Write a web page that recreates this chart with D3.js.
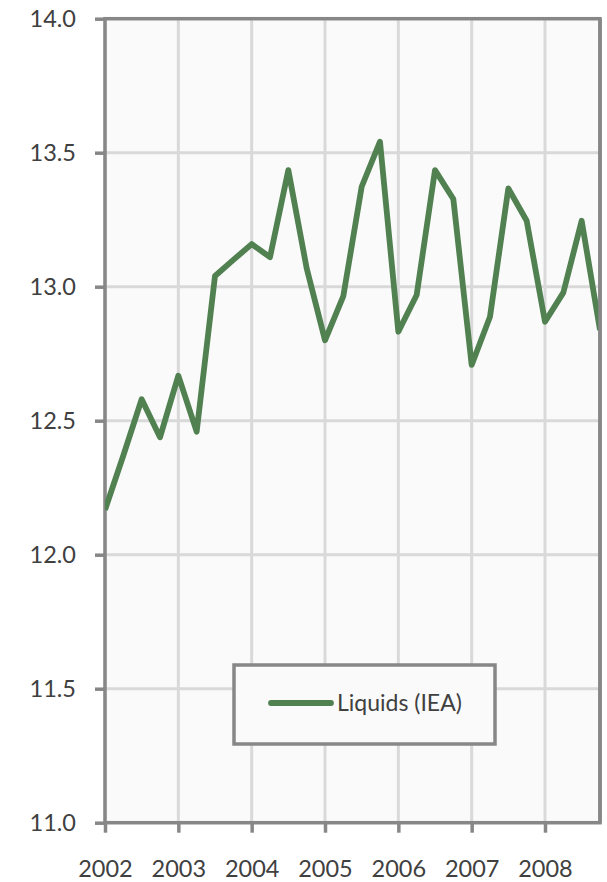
<!DOCTYPE html>
<html>
<head>
<meta charset="utf-8">
<script src="https://cdn.jsdelivr.net/npm/d3@7"></script>
<style>
  html, body { margin: 0; padding: 0; background: #ffffff; }
  svg { display: block; }
  text { font-family: Lato, "Open Sans", sans-serif; fill: #404040; }
</style>
</head>
<body>
<svg id="chart" width="607" height="882"></svg>
<script>
// Quarterly liquids production (IEA), 2002 Q1 – 2008 Q4
const periods = [
  2002.0, 2002.25, 2002.5, 2002.75,
  2003.0, 2003.25, 2003.5, 2003.75,
  2004.0, 2004.25, 2004.5, 2004.75,
  2005.0, 2005.25, 2005.5, 2005.75,
  2006.0, 2006.25, 2006.5, 2006.75,
  2007.0, 2007.25, 2007.5, 2007.75,
  2008.0, 2008.25, 2008.5, 2008.75
];
const liquids = [
  12.167, 12.37, 12.58, 12.438,
  12.668, 12.459, 13.04, 13.10,
  13.159, 13.11, 13.435, 13.069,
  12.80, 12.965, 13.373, 13.541,
  12.832, 12.969, 13.435, 13.327,
  12.708, 12.888, 13.367, 13.246,
  12.869, 12.978, 13.246, 12.838
];
const yearTicks = [2002, 2003, 2004, 2005, 2006, 2007, 2008];
const valueTicks = [11.0, 11.5, 12.0, 12.5, 13.0, 13.5, 14.0];
const seriesName = "Liquids (IEA)";

const svg = d3.select("#chart");
const plotL = 105, plotR = 600, plotT = 18.7, plotB = 822.7;

const x = d3.scaleLinear().domain([2002, 2008.75]).range([plotL, plotR]);
const y = d3.scaleLinear().domain([11, 14]).range([plotB, plotT]);

const axisColor = "#878787";
const gridColor = "#d9d9d9";
const lineColor = "#518151";
const fontStack = "Lato, 'Open Sans', sans-serif";

// plot background
svg.append("rect")
  .attr("x", plotL).attr("y", plotT)
  .attr("width", plotR - plotL).attr("height", plotB - plotT)
  .attr("fill", "#fafafa");

// gridlines
svg.append("g").selectAll("line").data(valueTicks).join("line")
  .attr("x1", plotL).attr("x2", plotR)
  .attr("y1", d => y(d)).attr("y2", d => y(d))
  .attr("stroke", gridColor).attr("stroke-width", 3);
svg.append("g").selectAll("line").data(yearTicks).join("line")
  .attr("x1", d => x(d)).attr("x2", d => x(d))
  .attr("y1", plotT).attr("y2", plotB)
  .attr("stroke", gridColor).attr("stroke-width", 3);

// left axis
const yAxis = d3.axisLeft(y).tickValues(valueTicks).tickFormat(d3.format(".1f"))
  .tickSize(10).tickPadding(19);
const gy = svg.append("g").attr("transform", `translate(${plotL},0)`).call(yAxis);
gy.select(".domain").remove();
gy.selectAll(".tick line").attr("stroke", axisColor).attr("stroke-width", 3.5);
gy.selectAll(".tick text").attr("font-size", 23.5).attr("fill", "#404040")
  .style("font-family", fontStack);

// bottom axis
const xAxis = d3.axisBottom(x).tickValues(yearTicks).tickFormat(d3.format("d"))
  .tickSize(10).tickPadding(28);
const gx = svg.append("g").attr("transform", `translate(0,${plotB})`).call(xAxis);
gx.select(".domain").remove();
gx.selectAll(".tick line").attr("stroke", axisColor).attr("stroke-width", 3.5);
gx.selectAll(".tick text").attr("font-size", 23.5).attr("fill", "#404040")
  .style("font-family", fontStack);

// plot frame
svg.append("rect")
  .attr("x", plotL).attr("y", plotT)
  .attr("width", plotR - plotL).attr("height", plotB - plotT)
  .attr("fill", "none").attr("stroke", axisColor).attr("stroke-width", 3.5);

// series line, clipped to the plot area
svg.append("clipPath").attr("id", "plotClip")
  .append("rect").attr("x", plotL).attr("y", plotT)
  .attr("width", plotR - plotL).attr("height", plotB - plotT);
const points = periods.map((p, i) => [p, liquids[i]]);
svg.append("path")
  .datum(points)
  .attr("clip-path", "url(#plotClip)")
  .attr("fill", "none")
  .attr("stroke", lineColor)
  .attr("stroke-width", 5.8)
  .attr("stroke-linejoin", "round")
  .attr("d", d3.line().x(d => x(d[0])).y(d => y(d[1])));

// right border drawn above the line end
svg.append("line")
  .attr("x1", plotR).attr("x2", plotR).attr("y1", plotT).attr("y2", plotB)
  .attr("stroke", axisColor).attr("stroke-width", 3.5);

// legend
const lg = svg.append("g");
lg.append("rect")
  .attr("x", 234).attr("y", 665).attr("width", 261).attr("height", 79)
  .attr("fill", "#fafafa").attr("stroke", axisColor).attr("stroke-width", 3.5);
lg.append("line")
  .attr("x1", 271).attr("x2", 331).attr("y1", 703).attr("y2", 703)
  .attr("stroke", lineColor).attr("stroke-width", 5.8).attr("stroke-linecap", "round");
lg.append("text")
  .attr("x", 337).attr("y", 703).attr("dy", "0.35em")
  .attr("font-size", 23).text(seriesName);
</script>
</body>
</html>
